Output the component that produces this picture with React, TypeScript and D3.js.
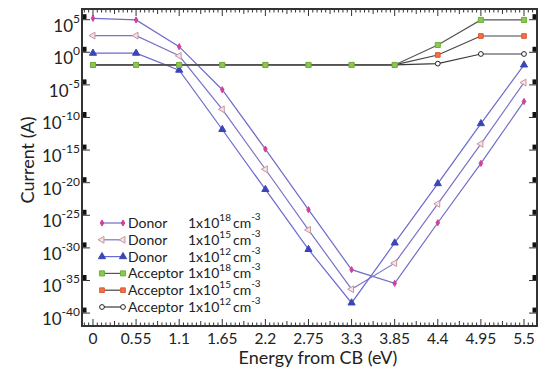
import React from "react";
import * as d3 from "d3";

// energy positions (eV from conduction band)
const energies = [0, 0.55, 1.1, 1.65, 2.2, 2.75, 3.3, 3.85, 4.4, 4.95, 5.5];

// log10 of current (A)
const donor18 = [4.75, 4.5, 0.4, -6.2, -15.3, -24.6, -33.8, -35.9, -26.6, -17.5, -8.0];
const donor15 = [2.1, 2.1, -1.0, -9.2, -18.4, -27.7, -36.8, -32.8, -23.7, -14.5, -5.1];
const donor12 = [-0.6, -0.6, -3.2, -12.3, -21.5, -30.7, -38.9, -29.7, -20.6, -11.4, -2.4];
const acceptor18 = [-2.4, -2.4, -2.4, -2.4, -2.4, -2.4, -2.4, -2.4, 0.66, 4.5, 4.5];
const acceptor15 = [-2.4, -2.4, -2.4, -2.4, -2.4, -2.4, -2.4, -2.4, -0.87, 2.04, 2.04];
const acceptor12 = [-2.4, -2.4, -2.4, -2.4, -2.4, -2.4, -2.4, -2.4, -2.2, -0.72, -0.72];

const xTicks = [0, 0.55, 1.1, 1.65, 2.2, 2.75, 3.3, 3.85, 4.4, 4.95, 5.5];
const yTickExps = [5, 0, -5, -10, -15, -20, -25, -30, -35, -40];

const seriesNames = ["Donor", "Donor", "Donor", "Acceptor", "Acceptor", "Acceptor"];
const seriesDoping = ["18", "15", "12", "18", "15", "12"];

type Series = {
  values: number[];
  line: string;
  fill: string;
  stroke: string;
  size: number;
  rotate: number;
  symbol: d3.SymbolType;
};

const FONT = "Lato, 'Open Sans', sans-serif";

const App: React.FC = () => {
  const svgRef = React.useRef<SVGSVGElement>(null);

  React.useEffect(() => {
    if (!svgRef.current) return;
    const svg = d3.select(svgRef.current);
    svg.selectAll("*").remove();

    const left = 82, right = 537, top = 9, bottom = 326;

    const x = d3.scaleLinear().domain([-0.14, 5.666]).range([left, right]);
    const y = d3
      .scaleLog()
      .domain([Math.pow(10, -42.44), Math.pow(10, 6.18)])
      .range([bottom, top]);

    const series: Series[] = [
      { values: donor18, line: "#6e6ccc", fill: "#d2409c", stroke: "#d2409c", size: 11, rotate: 0, symbol: d3.symbolDiamond },
      { values: donor15, line: "#7c72c8", fill: "#f4e4ea", stroke: "#c8949c", size: 20, rotate: -90, symbol: d3.symbolTriangle },
      { values: donor12, line: "#6a6ad0", fill: "#3a46b8", stroke: "#3a46b8", size: 22, rotate: 0, symbol: d3.symbolTriangle },
      { values: acceptor12, line: "#3a3a3a", fill: "#ffffff", stroke: "#222", size: 18, rotate: 0, symbol: d3.symbolCircle },
      { values: acceptor15, line: "#444", fill: "#f07048", stroke: "#e05a30", size: 22, rotate: 0, symbol: d3.symbolSquare },
      { values: acceptor18, line: "#555", fill: "#8cc850", stroke: "#6cb03c", size: 26, rotate: 0, symbol: d3.symbolSquare },
    ];

    const line = d3
      .line<number>()
      .x((_, i) => x(energies[i]))
      .y((v) => y(Math.pow(10, v)));

    // lines then markers
    series.forEach((s) => {
      svg
        .append("path")
        .datum(s.values)
        .attr("fill", "none")
        .attr("stroke", s.line)
        .attr("stroke-width", 1.2)
        .attr("d", line);
    });
    series.forEach((s) => {
      const sym = d3.symbol().type(s.symbol).size(s.size);
      svg
        .append("g")
        .selectAll("path")
        .data(s.values)
        .join("path")
        .attr("d", sym() as string)
        .attr(
          "transform",
          (v, i) => `translate(${x(energies[i])},${y(Math.pow(10, v))}) rotate(${s.rotate})`
        )
        .attr("fill", s.fill)
        .attr("stroke", s.stroke)
        .attr("stroke-width", 1);
    });

    // frame
    svg
      .append("rect")
      .attr("x", left)
      .attr("y", top)
      .attr("width", right - left)
      .attr("height", bottom - top)
      .attr("fill", "none")
      .attr("stroke", "#333")
      .attr("stroke-width", 2);

    // x ticks (major + minor, top and bottom)
    const minor = d3.range(-2, 111).map((i) => i * 0.055).filter((v) => x(v) < right - 1 && x(v) > left + 1);
    const tg = svg.append("g").attr("stroke", "#333").attr("stroke-width", 1);
    minor.forEach((v) => {
      const k = Math.round(v / 0.055);
      const len = k % 10 === 0 ? 7 : k % 5 === 0 ? 5 : 3.5;
      tg.append("line").attr("x1", x(v)).attr("x2", x(v)).attr("y1", bottom).attr("y2", bottom - len);
      tg.append("line").attr("x1", x(v)).attr("x2", x(v)).attr("y1", top).attr("y2", top + len);
    });

    svg
      .append("g")
      .selectAll("text")
      .data(xTicks)
      .join("text")
      .attr("x", (d) => x(d))
      .attr("y", 344)
      .attr("text-anchor", "middle")
      .attr("font-family", FONT)
      .attr("font-size", 15.5)
      .attr("fill", "#222")
      .text((d) => String(d));

    // y ticks: black block + short line on both sides
    yTickExps.forEach((e) => {
      const yy = y(Math.pow(10, e));
      svg.append("rect").attr("x", left + 1).attr("y", yy - 2.5).attr("width", 3.5).attr("height", 5).attr("fill", "#111");
      svg.append("line").attr("x1", left).attr("x2", left + 8).attr("y1", yy + 3).attr("y2", yy + 3).attr("stroke", "#333");
      svg.append("rect").attr("x", right - 4.5).attr("y", yy - 2.5).attr("width", 3.5).attr("height", 5).attr("fill", "#111");
      svg.append("line").attr("x1", right - 8).attr("x2", right).attr("y1", yy + 3).attr("y2", yy + 3).attr("stroke", "#333");

      const t = svg
        .append("text")
        .attr("x", 80)
        .attr("y", yy + 15)
        .attr("text-anchor", "end")
        .attr("font-family", FONT)
        .attr("fill", "#222");
      t.append("tspan").attr("font-size", 17).text("10");
      t.append("tspan").attr("font-size", 12).attr("dy", -9).text(String(e));
    });

    // axis titles
    svg
      .append("text")
      .attr("x", 318)
      .attr("y", 364)
      .attr("text-anchor", "middle")
      .attr("font-family", FONT)
      .attr("font-size", 18)
      .attr("fill", "#222")
      .text("Energy from CB (eV)");
    svg
      .append("text")
      .attr("transform", "translate(34,160) rotate(-90)")
      .attr("text-anchor", "middle")
      .attr("font-family", FONT)
      .attr("font-size", 18)
      .attr("fill", "#222")
      .text("Current (A)");

    // legend
    const legendOrder = [0, 1, 2, 5, 4, 3];
    const lg = svg.append("g");
    legendOrder.forEach((si, row) => {
      const s = series[si];
      const ly = 223 + row * 16.8;
      lg.append("line").attr("x1", 102).attr("x2", 123).attr("y1", ly).attr("y2", ly).attr("stroke", s.line).attr("stroke-width", 1.2);
      const sym = d3.symbol().type(s.symbol).size(s.size);
      [102, 123].forEach((mx) => {
        lg.append("path")
          .attr("d", sym() as string)
          .attr("transform", `translate(${mx},${ly}) rotate(${s.rotate})`)
          .attr("fill", s.fill)
          .attr("stroke", s.stroke);
      });
      const label = seriesNames[row];
      lg.append("text")
        .attr("x", 128)
        .attr("y", ly + 5)
        .attr("font-family", FONT)
        .attr("font-size", 14)
        .attr("fill", "#222")
        .text(label);
      const t = lg
        .append("text")
        .attr("x", 188)
        .attr("y", ly + 5)
        .attr("font-family", FONT)
        .attr("fill", "#222");
      t.append("tspan").attr("font-size", 14).text("1x10");
      t.append("tspan").attr("font-size", 10).attr("dy", -7).text(seriesDoping[row]);
      t.append("tspan").attr("font-size", 14).attr("dy", 7).attr("dx", 2).text("cm");
      t.append("tspan").attr("font-size", 10).attr("dy", -8).text("-3");
    });
  }, []);

  return (
    <svg
      ref={svgRef}
      width={543}
      height={373}
      style={{ position: "absolute", left: 0, top: 0, background: "#fff" }}
    />
  );
};

export default App;
